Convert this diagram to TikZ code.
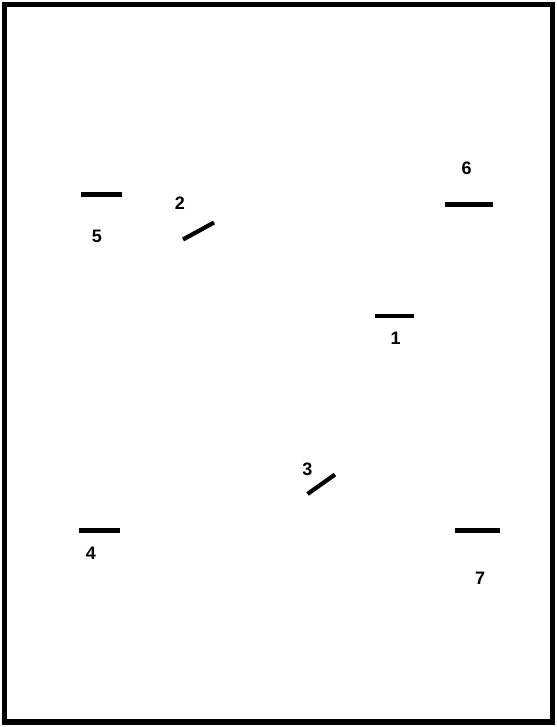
\documentclass[tikz,border=0pt]{standalone}
\usepackage{fontspec}
\setmainfont{Liberation Sans}
\begin{document}
\begin{tikzpicture}[x=1pt,y=-1pt,
  seg/.style={line width=4.2pt},
  lbl/.style={font=\fontsize{18}{20}\selectfont\bfseries, inner sep=0pt},
  frame/.style={line width=5.5pt}]
\useasboundingbox (0,0) rectangle (556,727);
\draw[frame] (4.5,4.5) rectangle (552.5,722);
% 5
\coordinate (s5a) at (81,194.5); \coordinate (s5b) at (122,194.5);
\draw[seg] (s5a) -- (s5b);
\node[lbl] (l5) at (97,236) {5};
% 2
\coordinate (s2a) at (183,239.5); \coordinate (s2b) at (214,222.5);
\draw[seg] (s2a) -- (s2b);
\node[lbl] (l2) at (180,203) {2};
% 6
\coordinate (s6a) at (445,204.5); \coordinate (s6b) at (492.5,204.5);
\draw[seg] (s6a) -- (s6b);
\node[lbl] (l6) at (466.5,168) {6};
% 1
\coordinate (s1a) at (375,316); \coordinate (s1b) at (414,316);
\draw[seg] (s1a) -- (s1b);
\node[lbl] (l1) at (395.5,338) {1};
% 4
\coordinate (s4a) at (78.5,530.5); \coordinate (s4b) at (119.5,530.5);
\draw[seg] (s4a) -- (s4b);
\node[lbl] (l4) at (91,553) {4};
% 3
\coordinate (s3a) at (307.5,494) ; \coordinate (s3b) at (335,474.5);
\draw[seg] (s3a) -- (s3b);
\node[lbl] (l3) at (307.5,469.5) {3};
% 7
\coordinate (s7a) at (454.5,530.5); \coordinate (s7b) at (500,530.5);
\draw[seg] (s7a) -- (s7b);
\node[lbl] (l7) at (480,578) {7};
\end{tikzpicture}
\end{document}
